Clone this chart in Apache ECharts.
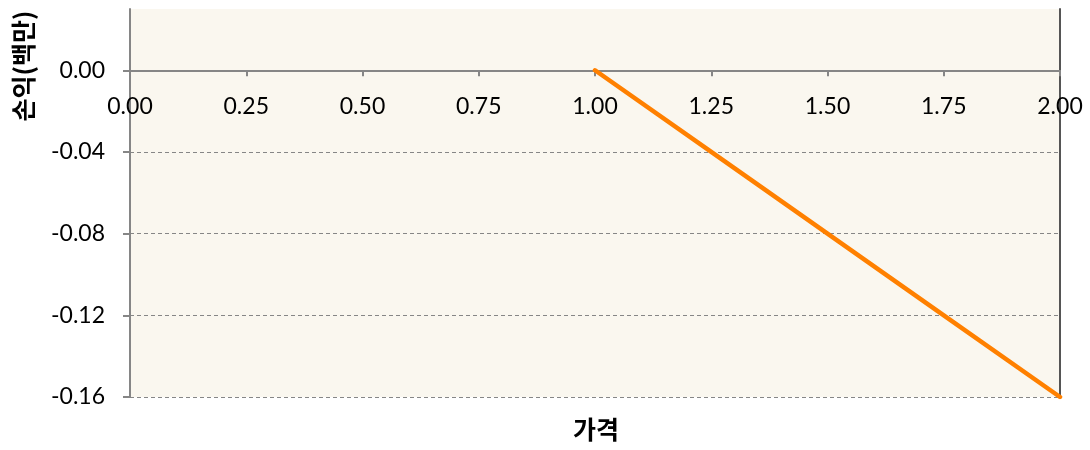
<!DOCTYPE html>
<html>
<head>
<meta charset="utf-8">
<script src="https://cdn.jsdelivr.net/npm/echarts@6/dist/echarts.min.js"></script>
<style>
  html, body { margin: 0; padding: 0; background: #fff; }
  #chart { width: 1090px; height: 450px; }
</style>
</head>
<body>
<div id="chart"></div>
<script>
// 가격 / 손익 데이터
var prices = [1.00, 1.25, 1.50, 1.75, 2.00];
var profits = [0.00, -0.04, -0.08, -0.12, -0.16];

var xTitle = '가격';
var yTitle = '손익(백만)';

var points = prices.map(function (p, i) { return [p, profits[i]]; });

var myChart = echarts.init(document.getElementById('chart'));
var labelFont = 'Lato, "Liberation Sans", sans-serif';
var titleFont = '"Noto Sans CJK KR", sans-serif';
var option = {
    backgroundColor: '#fff',
    animation: false,
    grid: {
        left: 130, right: 30, top: 9, bottom: 53,
        show: true,
        backgroundColor: '#FAF7EF',
        borderWidth: 0
    },
    graphic: [{
        type: 'text',
        x: 23, y: 66,
        rotation: Math.PI / 2,
        style: {
            text: yTitle,
            fontSize: 25, fontWeight: 'bold', fontFamily: titleFont,
            fill: '#000',
            align: 'center', verticalAlign: 'middle'
        }
    }, {
        type: 'text',
        x: 596, y: 429,
        style: {
            text: xTitle,
            fontSize: 25, fontWeight: 'bold', fontFamily: titleFont,
            fill: '#000',
            align: 'center', verticalAlign: 'middle'
        }
    }],
    xAxis: {
        type: 'value',
        min: 0, max: 2, interval: 0.25,
        axisLine: { onZero: false, lineStyle: { color: '#868686', width: 2 } },
        axisTick: { show: true, length: 6, lineStyle: { color: '#868686', width: 2 } },
        axisLabel: {
            margin: 25, fontSize: 23, color: '#000', fontFamily: labelFont,
            formatter: function (v) { return v.toFixed(2); }
        },
        splitLine: { show: false }
    },
    yAxis: [{
        type: 'value',
        min: -0.16, max: 0.03, interval: 0.04,
        axisLine: { show: true, onZero: false, lineStyle: { color: '#868686', width: 2 } },
        axisTick: { show: true, length: 7, lineStyle: { color: '#868686', width: 2 } },
        axisLabel: {
            margin: 25, fontSize: 23, color: '#000', fontFamily: labelFont,
            showMaxLabel: false,
            formatter: function (v) { return v.toFixed(2); }
        },
        splitLine: {
            show: true, showMaxLine: false,
            lineStyle: { color: '#868686', type: [4, 3], width: 1 }
        }
    }, {
        type: 'value',
        position: 'right',
        min: -0.16, max: 0.03,
        axisLine: { show: true, onZero: false, lineStyle: { color: '#555', width: 2 } },
        axisTick: { show: false },
        axisLabel: { show: false },
        splitLine: { show: false }
    }],
    series: [{
        type: 'line',
        data: points,
        symbol: 'none',
        lineStyle: { color: '#FF8000', width: 4.5, cap: 'round' }
    }]
};
if (option && typeof option === "object") {
    myChart.setOption(option, true);
    // x축을 0 위치로 올림
    var yZero = myChart.convertToPixel({ yAxisIndex: 0 }, 0);
    var yMin = myChart.convertToPixel({ yAxisIndex: 0 }, -0.16);
    myChart.setOption({ xAxis: { offset: yZero - yMin } });
}
</script>
</body>
</html>
